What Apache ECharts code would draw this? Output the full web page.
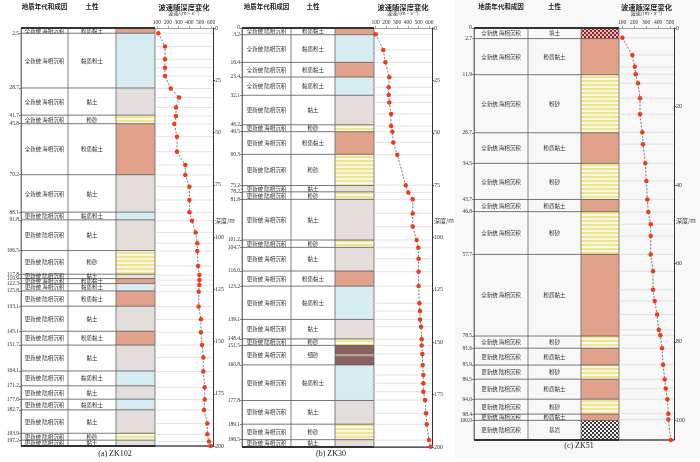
<!DOCTYPE html>
<html>
<head>
<meta charset="utf-8">
<script src="https://cdn.jsdelivr.net/npm/echarts@6/dist/echarts.min.js"></script>
<style>html,body{margin:0;padding:0;background:#fff}#main{width:700px;height:462px}</style>
</head>
<body>
<div id="main"></div>
<script>
// 地层年代与成因
var qh = '全新统 海相沉积', ql = '全新统 陆相沉积', gh = '更新统 海相沉积', gl = '更新统 陆相沉积';

// (a) ZK102
var zk102Bounds = [0, 2.5, 28.7, 41.7, 45.8, 70.2, 88.1, 91.8, 106.5, 117.8, 119.9, 122.3, 125.8, 133.1, 145.1, 151.7, 164.1, 171.2, 177.6, 182.7, 193.9, 197.2, 200];
var zk102Age = [qh, qh, qh, qh, qh, qh, gl, gl, gl, gl, gh, gh, gl, gl, gl, gl, gl, gl, gl, gl, gl, gl];
var zk102Soil = ['粉质黏土', '黏质粉土', '黏土', '粉砂', '粉质黏土', '黏土', '黏质粉土', '黏土', '粉砂', '黏土', '粉质黏土', '黏质粉土', '粉质黏土', '黏土', '粉质黏土', '黏土', '黏质粉土', '黏土', '黏质粉土', '黏土', '粉砂', '黏土'];
var zk102Dep = [2.5, 8.9, 15, 19, 23, 28.9, 33.3, 38, 42.1, 45.9, 52, 59.2, 65.5, 70.3, 75.9, 82.3, 88.2, 92.2, 97.9, 103, 106.7, 113.9, 118.2, 120.6, 123, 126.2, 133.3, 139.4, 145.6, 151.7, 157.6, 164.4, 171.9, 177.7, 182.8, 189.2, 194.4, 197.9, 200];
var zk102Vel = [112, 174, 174, 174, 174, 227, 304, 276, 276, 260, 285, 285, 362, 362, 400, 400, 400, 424, 458, 473, 473, 480, 492, 492, 492, 486, 486, 507, 507, 517, 529, 529, 542, 542, 535, 566, 566, 581, 597];

// (b) ZK30
var zk30Bounds = [0, 3.2, 16.4, 23.4, 32.1, 46.2, 49.5, 60.3, 75.2, 78.2, 81.8, 101.2, 104.7, 116.0, 123.2, 139.1, 148.4, 151.5, 160.8, 177.8, 189.1, 196.5, 200];
var zk30Age = [ql, ql, ql, ql, gl, gh, gh, gl, gl, gl, gh, gl, gh, gh, gh, gh, gl, gh, gh, gh, gh, gh];
var zk30Soil = ['粉质黏土', '黏质粉土', '粉质黏土', '黏质粉土', '黏土', '粉砂', '粉质黏土', '粉砂', '黏土', '粉砂', '黏土', '粉砂', '黏土', '粉质黏土', '黏质粉土', '黏土', '粉砂', '细砂', '黏质粉土', '黏土', '粉砂', '黏土'];
var zk30Dep = [3.0, 10.5, 16.4, 23.5, 28.3, 32, 35.6, 41, 46.8, 49.5, 54.7, 60.5, 75, 78.5, 81.8, 88.5, 94.8, 101.2, 104.9, 110.1, 116.3, 123.2, 131.4, 135.1, 139.1, 142.6, 148.6, 151.6, 155.6, 160.9, 165.6, 169.6, 173.6, 177.6, 183.9, 189.2, 196.7, 199.9];
var zk30Vel = [100, 171, 190, 227, 221, 221, 227, 243, 243, 255, 264, 301, 380, 404, 445, 445, 445, 482, 497, 500, 500, 500, 507, 513, 513, 523, 529, 529, 535, 538, 544, 544, 544, 560, 569, 576, 597, 613];

// (c) ZK51
var zk51Bounds = [0, 2.7, 11.9, 26.7, 34.5, 43.7, 46.8, 57.7, 78.5, 81.6, 85.9, 89.5, 94.6, 98.4, 100.0, 105];
var zk51Age = [qh, qh, qh, qh, qh, qh, qh, qh, qh, gl, gl, gl, gl, gh, gl];
var zk51Soil = ['填土', '粉质黏土', '粉砂', '粉质黏土', '粉砂', '粉质黏土', '粉砂', '粉质黏土', '粉砂', '粉质黏土', '粉砂', '粉质黏土', '粉砂', '粉质黏土', '基岩'];
var zk51Dep = [2.5, 6.9, 9.9, 11.8, 14.1, 17.9, 22, 26.6, 29.6, 34.5, 39, 43.7, 46.9, 50, 53, 57.7, 62, 66.7, 69.6, 73, 76.9, 78.3, 81.6, 85.8, 89.6, 91.9, 94.6, 98.3, 99.8, 105];
var zk51Vel = [103, 186, 206, 214, 233, 250, 250, 269, 275, 294, 303, 311, 319, 339, 339, 339, 358, 358, 372, 392, 406, 419, 433, 442, 456, 464, 478, 486, 486, 506];

// 刻度
var velTicks600 = [100, 200, 300, 400, 500, 600];
var velTicks500 = [100, 200, 300, 400, 500];
var depTicks200 = [0, 25, 50, 75, 100, 125, 150, 175, 200];
var depTicks100 = [0, 20, 40, 60, 80, 100];

var panels = [
    {cap: '(a) ZK102', bounds: zk102Bounds, age: zk102Age, soil: zk102Soil, dep: zk102Dep, vel: zk102Vel, vt: velTicks600, dt: depTicks200},
    {cap: '(b) ZK30', bounds: zk30Bounds, age: zk30Age, soil: zk30Soil, dep: zk30Dep, vel: zk30Vel, vt: velTicks600, dt: depTicks200},
    {cap: '(c) ZK51', bounds: zk51Bounds, age: zk51Age, soil: zk51Soil, dep: zk51Dep, vel: zk51Vel, vt: velTicks500, dt: depTicks100}
];

// 版面位置 (px)
var layout = [
    {left: 21, c1: 68, c2: 116, soil: 155, right: 213, top: 28, bottom: 446, vmin: 81.5, vmax: 618.5, capX: 115, capY: 454},
    {left: 242, c1: 291, c2: 335, soil: 374, right: 432, top: 28, bottom: 447, vmin: 84, vmax: 625, capX: 331, capY: 454},
    {left: 474, c1: 528, c2: 581, soil: 619, right: 674, top: 28, bottom: 440, vmin: 75, vmax: 533, capX: 579, capY: 446}
];

var cjk = '"Noto Sans CJK SC", sans-serif';
var serif = '"Liberation Serif", "DejaVu Serif", serif';

function pat(w, h, draw) {
    var c = document.createElement('canvas');
    c.width = w; c.height = h;
    draw(c.getContext('2d'));
    return {image: c, repeat: 'repeat'};
}
var soilFill = {
    '粉质黏土': pat(4, 4, function (g) {
        g.fillStyle = '#e2a28b'; g.fillRect(0, 0, 4, 4);
        g.fillStyle = '#dd9b84'; g.fillRect(0, 0, 1, 1); g.fillRect(2, 2, 1, 1);
    }),
    '黏质粉土': pat(4, 4, function (g) {
        g.fillStyle = '#d9eef3'; g.fillRect(0, 0, 4, 4);
        g.fillStyle = '#c6e2ea'; g.fillRect(0, 0, 1, 1); g.fillRect(2, 2, 1, 1);
    }),
    '黏土': '#e3dddc',
    '粉砂': pat(4, 4, function (g) {
        g.fillStyle = '#fcf9df'; g.fillRect(0, 0, 4, 4);
        g.fillStyle = '#efe597'; g.fillRect(0, 0, 4, 2);
    }),
    '填土': pat(4, 4, function (g) {
        g.fillStyle = '#e8bcbc'; g.fillRect(0, 0, 4, 4);
        g.fillStyle = '#8e2828'; g.fillRect(0, 0, 2, 2); g.fillRect(2, 2, 2, 2);
    }),
    '基岩': pat(4, 4, function (g) {
        g.fillStyle = '#f0f0f0'; g.fillRect(0, 0, 4, 4);
        g.fillStyle = '#3a3a3a'; g.fillRect(0, 0, 2, 2); g.fillRect(2, 2, 2, 2);
    }),
    '细砂': '#8e5f5f'
};

function makeLayerRender(pn, L) {
    return function (params, api) {
        var i = params.dataIndex;
        var y0 = api.coord([0, api.value(1)])[1];
        var y1 = api.coord([0, api.value(2)])[1];
        var mid = (y0 + y1) / 2;
        var soil = pn.soil[i];
        var kids = [];
        kids.push({type: 'rect', shape: {x: L.c2, y: y0, width: L.soil - L.c2, height: y1 - y0}, style: {fill: soilFill[soil]}});
        if (soil === '细砂') {
            kids.push({type: 'rect', shape: {x: L.c2, y: mid - 1.2, width: L.soil - L.c2, height: 2.4}, style: {fill: '#a7ae90'}});
        }
        [L.left, L.c1, L.c2, L.soil].forEach(function (x) {
            kids.push({type: 'line', shape: {x1: x, y1: y0, x2: x, y2: y1}, style: {stroke: '#666', lineWidth: 0.8}});
        });
        kids.push({type: 'line', shape: {x1: L.left, y1: y0, x2: L.soil, y2: y0},
            style: {stroke: i === 0 ? '#333' : '#555', lineWidth: i === 0 ? 2 : 0.8}});
        if (i === pn.soil.length - 1) {
            kids.push({type: 'line', shape: {x1: L.left, y1: y1, x2: L.right, y2: y1}, style: {stroke: '#333', lineWidth: 2}});
        }
        kids.push({type: 'text', x: (L.left + L.c1) / 2, y: mid,
            style: {text: pn.age[i], align: 'center', verticalAlign: 'middle', fontSize: 5.5, fontFamily: cjk, fill: '#333'}});
        kids.push({type: 'text', x: (L.c1 + L.c2) / 2, y: mid,
            style: {text: soil, align: 'center', verticalAlign: 'middle', fontSize: 5.5, fontFamily: cjk, fill: '#333'}});
        return {type: 'group', children: kids};
    };
}

function gridLineRender(params, api) {
    var y = api.coord([api.value(0), api.value(1)])[1];
    var cs = params.coordSys;
    return {type: 'line', shape: {x1: cs.x, y1: y, x2: cs.x + cs.width, y2: y}, style: {stroke: '#dadada', lineWidth: 0.8}};
}

var grids = [], xAxes = [], yAxes = [], series = [];
var graphics = [
    {type: 'rect', z: -10, shape: {x: 455, y: 0, width: 245, height: 458}, style: {fill: '#f8f8f8'}}
];

panels.forEach(function (pn, i) {
    var L = layout[i];
    var dmax = pn.bounds[pn.bounds.length - 1];
    var h = L.bottom - L.top;
    grids.push({left: L.left, top: L.top, width: L.soil - L.left, height: h, containLabel: false, outerBoundsMode: 'none'});
    grids.push({left: L.soil, top: L.top, width: L.right - L.soil, height: h, containLabel: false, outerBoundsMode: 'none'});

    xAxes.push({gridIndex: 2 * i, type: 'value', min: 0, max: 1, show: false});
    xAxes.push({
        gridIndex: 2 * i + 1, type: 'value', position: 'top', min: L.vmin, max: L.vmax,
        axisLine: {show: true, lineStyle: {color: '#888', width: 0.8}},
        axisTick: {show: true, customValues: pn.vt, length: 2, lineStyle: {color: '#888', width: 0.8}},
        axisLabel: {customValues: pn.vt, fontSize: 5.5, margin: 2, color: '#333', fontFamily: serif},
        splitLine: {show: false},
        name: '波速/(m·s⁻¹)', nameLocation: 'middle', nameGap: 8,
        nameTextStyle: {fontSize: 5, color: '#333', fontFamily: cjk}
    });

    yAxes.push({
        gridIndex: 2 * i, type: 'value', inverse: true, min: 0, max: dmax, position: 'left',
        axisLine: {show: true, lineStyle: {color: '#666', width: 0.8}},
        axisTick: {show: true, customValues: pn.bounds.slice(0, -1), length: 2, lineStyle: {color: '#666', width: 0.8}},
        axisLabel: {customValues: pn.bounds.slice(0, -1), fontSize: 5.5, margin: 2, color: '#333', fontFamily: serif,
            formatter: function (v) { return v === 0 ? '0' : v.toFixed(1); }},
        splitLine: {show: false}
    });
    yAxes.push({
        gridIndex: 2 * i + 1, type: 'value', inverse: true, min: 0, max: dmax, position: 'right',
        axisLine: {show: true, lineStyle: {color: '#333', width: 1}},
        axisTick: {show: true, customValues: pn.dt, length: 2, lineStyle: {color: '#333', width: 0.8}},
        axisLabel: {customValues: pn.dt, fontSize: 6, margin: 2, color: '#333', fontFamily: serif},
        splitLine: {show: false}
    });

    var layerData = [];
    for (var k = 0; k < pn.soil.length; k++) layerData.push([0, pn.bounds[k], pn.bounds[k + 1]]);
    var pts = pn.vel.map(function (v, k) { return [v, pn.dep[k]]; });

    series.push({type: 'custom', xAxisIndex: 2 * i, yAxisIndex: 2 * i, silent: true,
        encode: {x: 0, y: [1, 2]}, data: layerData, renderItem: makeLayerRender(pn, L), z: 1});
    series.push({type: 'custom', xAxisIndex: 2 * i + 1, yAxisIndex: 2 * i + 1, silent: true,
        encode: {x: 0, y: 1}, data: pts, renderItem: gridLineRender, z: 1});
    series.push({type: 'line', xAxisIndex: 2 * i + 1, yAxisIndex: 2 * i + 1, silent: true, clip: false,
        data: pts, symbol: 'circle', symbolSize: 4.5,
        itemStyle: {color: '#f03a1e'},
        lineStyle: {color: '#555', width: 0.8, type: [2, 1.5]}, z: 5});

    // 表头
    graphics.push({type: 'text', x: (L.left + L.c1) / 2, y: 7,
        style: {text: '地质年代和成因', align: 'center', verticalAlign: 'middle', fontSize: 6.5, fontFamily: cjk, fill: '#222', fontWeight: 'bold'}});
    graphics.push({type: 'text', x: (L.c1 + L.c2) / 2, y: 7,
        style: {text: '土性', align: 'center', verticalAlign: 'middle', fontSize: 6.5, fontFamily: cjk, fill: '#222', fontWeight: 'bold'}});
    graphics.push({type: 'text', x: (L.soil + L.right) / 2, y: 7,
        style: {text: '波速随深度变化', align: 'center', verticalAlign: 'middle', fontSize: 7.3, fontFamily: cjk, fill: '#222', fontWeight: 'bold'}});
    graphics.push({type: 'text', x: L.right + 2, y: 221,
        style: {text: '深度/m', align: 'left', verticalAlign: 'middle', fontSize: 6, fontFamily: cjk, fill: '#333'}});
    graphics.push({type: 'text', x: L.capX, y: L.capY,
        style: {text: pn.cap, align: 'center', verticalAlign: 'middle', fontSize: 8, fontFamily: serif, fill: '#222'}});
});

var chart = echarts.init(document.getElementById('main'));
chart.setOption({
    animation: false,
    backgroundColor: '#fff',
    grid: grids,
    xAxis: xAxes,
    yAxis: yAxes,
    series: series,
    graphic: graphics
});
</script>
</body>
</html>
